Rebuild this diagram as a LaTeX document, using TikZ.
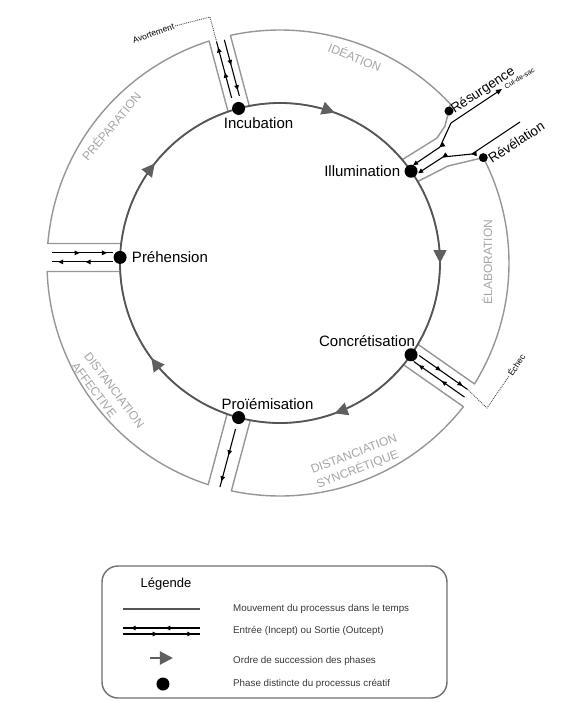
\documentclass[tikz,border=0pt]{standalone}
\usepackage{fontspec}
\setmainfont{Liberation Sans}
\usetikzlibrary{arrows.meta, positioning, calc, decorations.markings}
\definecolor{procgray}{RGB}{85,85,85}
\definecolor{tipgray}{RGB}{95,95,95}
\definecolor{ringgray}{RGB}{150,150,150}
\definecolor{namegray}{RGB}{165,165,165}
\definecolor{boxgray}{RGB}{110,110,110}
\definecolor{legtext}{RGB}{55,55,55}
\tikzset{
  sector/.style={draw=ringgray, fill=white, line width=1.4pt, line join=round},
  cycleline/.style={draw=procgray, line width=1.8pt,
    decoration={markings, mark=at position 0.5 with {\arrow{Triangle[length=13pt,width=13pt,color=tipgray]}}},
    postaction={decorate}},
  phasedot/.style={circle, fill=black, inner sep=0pt, minimum size=13pt},
  smalldot/.style={circle, fill=black, inner sep=0pt, minimum size=9pt},
  phasename/.style={font=\fontsize{15}{17}\selectfont, inner sep=0pt},
  sidename/.style={font=\fontsize{13.5}{15}\selectfont, inner sep=0pt},
  sectorname/.style={font=\fontsize{12}{16}\selectfont, text=namegray, align=left, inner sep=0pt},
  flow/.style={black, line width=1.1pt,
    decoration={markings,
      mark=at position 0.45 with {\arrow{Triangle[length=5pt,width=4.5pt]}},
      mark=at position 0.9 with {\arrow{Triangle[length=5pt,width=4.5pt]}}},
    postaction={decorate}},
  inflow/.style={black, line width=1.1pt, -{Triangle[length=5pt,width=4.5pt]},
    decoration={markings,
      mark=at position #1 with {\arrow{Triangle[length=5pt,width=4.5pt]}}},
    postaction={decorate}},
  note/.style={font=\fontsize{8.5}{10}\selectfont, inner sep=1pt},
  dotline/.style={densely dotted, line width=0.9pt, black!70},
  legendbox/.style={draw=boxgray, line width=1.4pt, rounded corners=16pt},
  legendtext/.style={font=\fontsize{9.8}{12}\selectfont, text=legtext, anchor=west, inner sep=0pt}
}

\begin{document}
\begin{tikzpicture}[x=1pt, y=1pt]
  \useasboundingbox (-280,-439) rectangle (287,263);

  % Phase positions on the cycle
  \coordinate (inc) at (105:160);
  \coordinate (ill) at (35:160);
  \coordinate (conc) at (-35:160);
  \coordinate (proi) at (-105:160);
  \coordinate (preh) at (178:160);
  \coordinate (res) at (169,152);
  \coordinate (rev) at (27.4:229);
  \coordinate (resbend) at (171,140);
  \coordinate (culsac) at (222,174);
  \coordinate (revend) at (240,141);

  % --- Outer ring sectors ---
  % Ideation
  \draw[sector] (40.2:160) -- (157,125) -- (165,137) -- (43:233)
    arc[start angle=43, end angle=102.29, radius=233] -- (101.06:160)
    arc[start angle=101.06, end angle=40.2, radius=160] -- cycle;
  % Preparation
  \draw[sector] (108.94:160) -- (107.71:233)
    arc[start angle=107.71, end angle=175.2, radius=233] -- (173:160)
    arc[start angle=173, end angle=108.94, radius=160] -- cycle;
  % Distanciation affective
  \draw[sector] (183.05:160) -- (182.09:233)
    arc[start angle=182.09, end angle=252.05, radius=233] -- (250.7:160)
    arc[start angle=250.7, end angle=183.05, radius=160] -- cycle;
  % Distanciation syncretique
  \draw[sector] (259.3:160) -- (257.95:233)
    arc[start angle=257.95, end angle=321.93, radius=233] -- (320.52:160)
    arc[start angle=320.52, end angle=259.3, radius=160] -- cycle;
  % Elaboration
  \draw[sector] (-30.52:160) -- (-31.87:229)
    arc[start angle=-31.87, end angle=27.4, radius=229] -- (168,97) -- (30.6:160)
    arc[start angle=30.6, end angle=-30.52, radius=160] -- cycle;

  % Sector names
  \node[sectorname, rotate=-22] (ideation) at (75,206) {IDÉATION};
  \node[sectorname, rotate=50] (preparation) at (-169,137) {PRÉPARATION};
  \node[sectorname, rotate=90] (elaboration) at (207,1) {ÉLABORATION};
  \node[sectorname, rotate=21] (distsync) at (77,-199) {DISTANCIATION\\SYNCRÉTIQUE};
  \node[sectorname, rotate=-53] (distaff) at (-172,-132) {DISTANCIATION\\AFFECTIVE};

  % --- Cycle of phases ---
  \draw[cycleline] (preh) arc[start angle=178, end angle=105, radius=160];
  \draw[cycleline] (inc) arc[start angle=105, end angle=35, radius=160];
  \draw[cycleline] (ill) arc[start angle=35, end angle=-35, radius=160];
  \draw[cycleline] (conc) arc[start angle=-35, end angle=-105, radius=160];
  \draw[cycleline] (proi) arc[start angle=255, end angle=178, radius=160];

  % --- Incepts and outcepts ---
  % Incubation
  \draw[flow] ($(inc)+(105:12)+(195:4)$) -- ($(inc)+(105:70)+(195:4)$);
  \draw[flow] ($(inc)+(105:70)+(15:4)$) -- ($(inc)+(105:12)+(15:4)$);
  % Prehension
  \draw[flow] ($(preh)+(-68,4.5)$) -- ($(preh)+(-7,4.5)$);
  \draw[flow] ($(preh)+(-7,-4.5)$) -- ($(preh)+(-68,-4.5)$);
  % Proiemisation
  \draw[flow] ($(proi)+(255:12)$) -- ($(proi)+(255:72)$);
  % Concretisation
  \draw[flow] ($(conc)+(325:7)+(55:4)$) -- ($(conc)+(325:66)+(55:4)$);
  \draw[flow] ($(conc)+(325:68)+(235:4)$) -- ($(conc)+(325:6)+(235:4)$);
  % Illumination: resurgence and revelation
  \draw[inflow=0.45] (resbend) -- (160,116) -- ($(ill)+(2,6)$);
  \draw[black, line width=1.1pt, -{Triangle[length=6pt,width=5pt]}] (resbend) -- (culsac);
  \draw[inflow=0.5, decoration={markings, mark=at position 0.75 with {\arrow{Triangle[length=5pt,width=4.5pt]}}}, postaction={decorate}]
    (revend) -- (192,109) -- (163,106) -- ($(ill)+(7,-2)$);

  % Abort and failure notes
  \node[note, rotate=19, anchor=east] (avort) at (-105,237) {Avortement};
  \draw[dotline] ($(inc)+(105:70)+(195:4)$) -- (-70,246) -- (avort.east);
  \node[note, rotate=57, anchor=west] (echec) at (229,-113) {Échec};
  \draw[dotline] ($(conc)+(325:66)+(55:4)$) -- (207,-145) -- (echec.west);
  \node[note, font=\fontsize{7}{8}\selectfont, rotate=32, anchor=west] (culsaclbl) at ($(culsac)+(2,1)$) {Cul-de-sac};

  % --- Phase dots and names ---
  \node[phasedot] (incdot) at (inc) {};
  \node[phasedot] (illdot) at (ill) {};
  \node[phasedot] (concdot) at (conc) {};
  \node[phasedot] (proidot) at (proi) {};
  \node[phasedot] (prehdot) at (preh) {};
  \node[smalldot] (resdot) at (res) {};
  \node[smalldot] (revdot) at (rev) {};

  \node[phasename, below=2.5pt of incdot, xshift=20pt] (inclbl) {Incubation};
  \node[phasename, left=4pt of illdot] (illlbl) {Illumination};
  \node[phasename, above=1pt of concdot, xshift=-44pt] (conclbl) {Concrétisation};
  \node[phasename, above=1.5pt of proidot, xshift=29pt] (proilbl) {Proïémisation};
  \node[phasename, right=5pt of prehdot] (prehlbl) {Préhension};
  \node[sidename, rotate=33, anchor=south west] (reslbl) at ($(resdot)+(7,-5)$) {Résurgence};
  \node[sidename, rotate=33, anchor=west] (revlbl) at ($(revdot)+(6,-2)$) {Révélation};

  % --- Legend ---
  \draw[legendbox] (-178,-303) rectangle (167,-435);
  \node[font=\fontsize{13}{15}\selectfont] (legtitle) at (-114,-321) {Légende};
  \draw[procgray, line width=1.5pt] (-157,-346) -- (-80,-346);
  \node[legendtext] (leg1) at (-47,-346) {Mouvement du processus dans le temps};
  \draw[flow] (-80,-365) -- (-157,-365);
  \draw[flow] (-157,-371) -- (-80,-371);
  \node[legendtext] (leg2) at (-47,-368) {Entrée (Incept) ou Sortie (Outcept)};
  \draw[-{Triangle[length=13pt,width=13pt]}, tipgray, line width=2pt] (-130,-395) -- (-107,-395);
  \node[legendtext] (leg3) at (-47,-398) {Ordre de succession des phases};
  \node[phasedot] (legdot) at (-117,-421) {};
  \node[legendtext] (leg4) at (-47,-421) {Phase distincte du processus créatif};
\end{tikzpicture}
\end{document}
